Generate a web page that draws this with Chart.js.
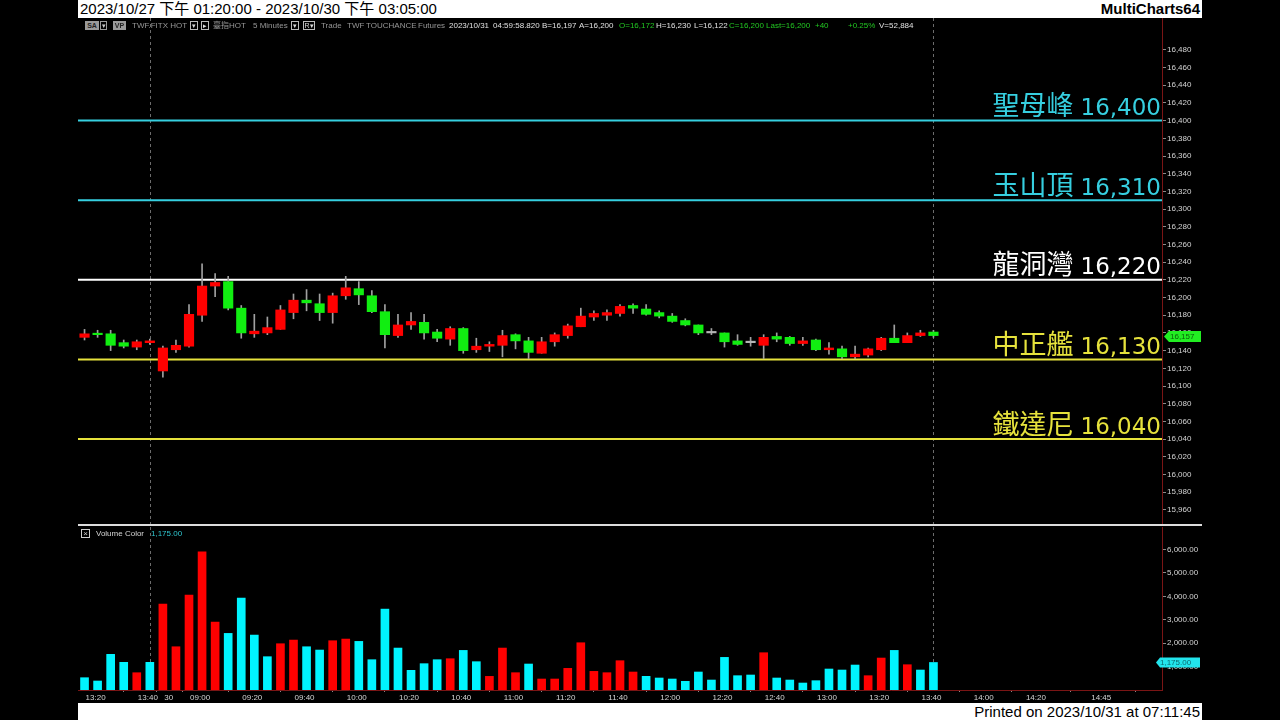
<!DOCTYPE html>
<html lang="zh-Hant">
<head>
<meta charset="utf-8">
<title>TWF.FITX HOT 5 Minutes</title>
<script src="https://cdn.jsdelivr.net/npm/chart.js@4.4.1/dist/chart.umd.min.js"></script>
<style>
  html, body { margin:0; padding:0; width:1280px; height:720px; background:#000; overflow:hidden;
    font-family:"Liberation Sans","Noto Sans CJK TC",sans-serif; }
  .a { position:absolute; white-space:nowrap; }
  #hdr { left:78px; top:0; width:1124px; height:18px; background:#fff; }
  #ftr { left:78px; top:703px; width:1124px; height:17px; background:#fff; }
  #title { left:80px; top:0; line-height:18px; font-size:15px; color:#000; }
  #brand { right:80px; top:0; line-height:18px; font-size:15px; font-weight:bold; color:#000; }
  #printed { right:80px; top:703px; line-height:17px; font-size:15px; color:#000; }
  .inf { top:20px; font-size:8px; line-height:11px; color:#979797; }
  .w { color:#e0e0e0; } .g { color:#22c822; }
  .box { top:21px; height:9px; font-size:7px; line-height:9px; text-align:center; box-sizing:border-box; }
  #sep { left:78px; top:524px; width:1124px; height:2px; background:#dcdcdc; }
  canvas { position:absolute; }
</style>
</head>
<body>
<canvas id="price" width="1124" height="506" style="left:78px;top:18px;"></canvas>
<canvas id="vol" width="1124" height="176" style="left:78px;top:527px;"></canvas>

<div class="a" id="hdr"></div>
<div class="a" id="ftr"></div>
<div class="a" id="title">2023/10/27 下午 01:20:00 - 2023/10/30 下午 03:05:00</div>
<div class="a" id="brand">MultiCharts64</div>
<div class="a" id="printed">Printed on 2023/10/31 at 07:11:45</div>
<div class="a" id="sep"></div>

<div class="a box" style="left:85px;width:14px;background:#9a9a9a;color:#222;font-weight:bold;">SA</div>
<div class="a box" style="left:100px;width:7px;border:1px solid #9a9a9a;color:#ccc;line-height:7px;">▾</div>
<div class="a box" style="left:113px;width:13px;background:#9a9a9a;color:#222;font-weight:bold;">VP</div>
<div class="a inf" style="left:132px;">TWF.FITX HOT</div>
<div class="a box" style="left:190px;width:8px;border:1px solid #bbb;color:#ddd;line-height:7px;">▾</div>
<div class="a box" style="left:201px;width:8px;border:1px solid #bbb;color:#ddd;line-height:7px;">▸</div>
<div class="a inf" style="left:213px;">臺指HOT</div>
<div class="a inf" style="left:253px;">5 Minutes</div>
<div class="a box" style="left:291px;width:8px;border:1px solid #bbb;color:#ddd;line-height:7px;">▾</div>
<div class="a box" style="left:303px;width:12px;border:1px solid #bbb;color:#ddd;line-height:7px;">R▾</div>
<div class="a inf" style="left:321px;">Trade</div>
<div class="a inf" style="left:347px;">TWF</div>
<div class="a inf" style="left:366px;">TOUCHANCE</div>
<div class="a inf" style="left:418px;">Futures</div>
<div class="a inf w" style="left:449px;">2023/10/31</div>
<div class="a inf w" style="left:493px;">04:59:58.820</div>
<div class="a inf w" style="left:542px;">B=16,197</div>
<div class="a inf w" style="left:579px;">A=16,200</div>
<div class="a inf g" style="left:619px;">O=16,172</div>
<div class="a inf w" style="left:656px;">H=16,230</div>
<div class="a inf w" style="left:694px;">L=16,122</div>
<div class="a inf g" style="left:729px;">C=16,200</div>
<div class="a inf g" style="left:766px;">Last=16,200</div>
<div class="a inf g" style="left:815px;">+40</div>
<div class="a inf g" style="left:848px;">+0.25%</div>
<div class="a inf w" style="left:879px;">V=52,884</div>

<div class="a" style="left:81px;top:529px;width:9px;height:9px;border:1px solid #cfcfcf;box-sizing:border-box;color:#cfcfcf;font-size:8px;line-height:7px;text-align:center;">×</div>
<div class="a" style="left:96px;top:528px;font-size:8px;line-height:11px;color:#d6d6d6;">Volume Color</div>
<div class="a" style="left:151px;top:528px;font-size:8px;line-height:11px;color:#2ec6cf;">1,175.00</div>

<script>
// ---------- categories (5-minute bars, 10/27 then 10/30, plus empty future bars) ----------
const times = ("13:15 13:20 13:25 13:30 13:35 13:40 " +
  "08:45 08:50 08:55 09:00 09:05 09:10 09:15 09:20 09:25 09:30 09:35 09:40 09:45 09:50 09:55 " +
  "10:00 10:05 10:10 10:15 10:20 10:25 10:30 10:35 10:40 10:45 10:50 10:55 " +
  "11:00 11:05 11:10 11:15 11:20 11:25 11:30 11:35 11:40 11:45 11:50 11:55 " +
  "12:00 12:05 12:10 12:15 12:20 12:25 12:30 12:35 12:40 12:45 12:50 12:55 " +
  "13:00 13:05 13:10 13:15 13:20 13:25 13:30 13:35 13:40 13:45 13:50 13:55 " +
  "14:00 14:05 14:10 14:15 14:20 14:25 14:30 14:35 14:40 14:45 14:50 14:55 15:00 15:05").split(" ");

// ---------- x tick labels ----------
const xTickIndex = [1, 5, 6, 9, 13, 17, 21, 25, 29, 33, 37, 41, 45, 49, 53, 57, 61, 65, 69, 73, 78];
const xTickText  = ["13:20","13:40","       30","09:00","09:20","09:40","10:00","10:20","10:40","11:00",
                    "11:20","11:40","12:00","12:20","12:40","13:00","13:20","13:40","14:00","14:20","14:45"];

// ---------- OHLC ----------
const opens  = [16155,16159,16159,16149,16144,16149,16117,16141,16145,16180,
                16213,16218,16188,16159,16160,16164,16183,16197,16193,16183,
                16202,16210,16202,16184,16157,16169,16172,16161,16153,16165,
                16141,16145,16146,16158,16151,16137,16150,16157,16167,16178,
                16180,16182,16191,16187,16183,16179,16174,16169,16160,16160,
                16151,16149,16146,16156,16155,16148,16152,16141,16142,16133,
                16135,16141,16154,16149,16157,16161];
const highs  = [16164,16163,16163,16152,16152,16153,16145,16152,16192,16238,
                16227,16224,16191,16181,16178,16191,16204,16209,16204,16205,
                16224,16218,16208,16192,16181,16183,16181,16164,16167,16166,
                16154,16150,16163,16159,16155,16155,16160,16170,16188,16185,
                16186,16192,16193,16192,16185,16182,16176,16169,16165,16160,
                16158,16155,16158,16160,16156,16155,16153,16149,16145,16145,
                16143,16155,16169,16160,16163,16163];
const lows   = [16152,16155,16140,16143,16141,16147,16110,16138,16144,16173,
                16201,16186,16154,16155,16158,16164,16176,16185,16174,16171,
                16198,16192,16183,16143,16155,16164,16153,16150,16146,16137,
                16138,16139,16133,16142,16131,16137,16145,16154,16167,16174,
                16174,16179,16182,16180,16177,16172,16168,16158,16158,16144,
                16146,16145,16131,16150,16146,16146,16140,16136,16131,16131,
                16133,16140,16149,16149,16156,16155];
const closes = [16159,16158,16146,16145,16150,16151,16143,16146,16181,16213,
                16217,16188,16160,16162,16166,16186,16197,16194,16183,16202,
                16211,16203,16184,16158,16169,16173,16160,16154,16165,16140,
                16145,16147,16157,16151,16138,16150,16158,16168,16179,16182,
                16183,16190,16188,16181,16179,16173,16169,16160,16160,16150,
                16147,16149,16155,16153,16148,16151,16141,16143,16133,16136,
                16142,16154,16149,16157,16160,16157];

// ---------- volume ----------
const volumes  = [525,384,1522,1181,738,1181,3667,1847,4051,5898,
                  2900,2417,3923,2345,1422,1976,2132,1847,1706,2104,
                  2175,2076,1294,3454,1791,839,1124,1294,1336,1691,
                  1209,582,1791,739,1109,469,469,924,2018,796,
                  739,1251,768,583,512,469,370,768,426,1393,
                  611,640,1592,512,426,298,398,896,853,1066,
                  611,1365,1691,1080,853,1175];
const volumeUp = [0,0,0,0,1,0,1,1,1,1, 1,0,0,0,0,1,1,0,0,1,
                  1,0,0,0,0,0,0,0,1,0, 0,1,1,1,0,1,1,1,1,1,
                  1,1,1,0,0,0,0,0,0,0, 0,0,1,0,0,0,0,0,0,0,
                  1,1,0,1,0,0];

// ---------- axis ticks ----------
const priceTicks = [15960,15980,16000,16020,16040,16060,16080,16100,16120,16140,16160,16180,16200,
                    16220,16240,16260,16280,16300,16320,16340,16360,16380,16400,16420,16440,16460,16480];
const volumeTicks = [1000,2000,3000,4000,5000,6000];

// ---------- price levels ----------
const levelValues = [16400, 16310, 16220, 16130, 16040];
const levelNames  = ["聖母峰", "玉山頂", "龍洞灣", "中正艦", "鐵達尼"];
const sessionMarks = [5, 65];

// ---------- styles ----------
const levelColors = ["#36cfe0", "#36cfe0", "#ffffff", "#e6e23c", "#e6e23c"];
const UP = "#ff0000", DOWN = "#11ee11", FLAT = "#b4b4b4", WICK = "#a0a0a0";
const VUP = "#ff0000", VDOWN = "#00f4ff";
const AXIS_RED = "#7a1515", LABEL = "#d4d4d4", TICKC = "#8a8a8a";
const tickFont = { family: "Liberation Sans", size: 8 };

const lastPrice = closes[closes.length - 1];
const lastVolume = volumes[volumes.length - 1];

function zeroPad(s) { s.paddingTop = 0; s.paddingBottom = 0; s.paddingLeft = 0; s.paddingRight = 0; }

const dashPlugin = {
  id: "sessionDash",
  beforeDatasetsDraw(chart) {
    const { ctx, chartArea: a, scales: { x } } = chart;
    ctx.save();
    ctx.strokeStyle = "#6c6c6c"; ctx.lineWidth = 1; ctx.setLineDash([3, 3]);
    sessionMarks.forEach(i => {
      const px = Math.round(x.getPixelForValue(i)) + 0.5;
      ctx.beginPath(); ctx.moveTo(px, a.top); ctx.lineTo(px, a.bottom); ctx.stroke();
    });
    ctx.restore();
  }
};

const pricePlugin = {
  id: "priceDecor",
  beforeDatasetsDraw(chart) {
    const { ctx, chartArea: a, scales: { y } } = chart;
    ctx.save();
    ctx.lineWidth = 2;
    levelValues.forEach((v, i) => {
      const py = y.getPixelForValue(v);
      ctx.strokeStyle = levelColors[i];
      ctx.beginPath(); ctx.moveTo(a.left, py); ctx.lineTo(a.right, py); ctx.stroke();
    });
    ctx.restore();
  },
  afterDatasetsDraw(chart) {
    const { ctx, chartArea: a, scales: { y } } = chart;
    ctx.save();
    ctx.textAlign = "right"; ctx.textBaseline = "alphabetic";
    levelValues.forEach((v, i) => {
      const py = y.getPixelForValue(v) - 5.5;
      const num = v.toLocaleString("en-US");
      const right = a.right - 1;
      ctx.fillStyle = levelColors[i];
      ctx.font = '23px "DejaVu Sans"';
      ctx.fillText(num, right, py);
      const w = ctx.measureText(num).width;
      ctx.font = '27px "Noto Sans CJK TC"';
      ctx.fillText(levelNames[i], right - w - 7, py);
    });
    ctx.restore();
  },
  afterDraw(chart) {
    const { ctx, chartArea: a, scales: { y } } = chart;
    const py = Math.round(y.getPixelForValue(lastPrice)) + 0.5;
    const x0 = a.right + 2;
    ctx.save();
    ctx.fillStyle = "#22ee22";
    ctx.beginPath();
    ctx.moveTo(x0, py); ctx.lineTo(x0 + 5, py - 5.5); ctx.lineTo(a.right + 39, py - 5.5);
    ctx.lineTo(a.right + 39, py + 5.5); ctx.lineTo(x0 + 5, py + 5.5); ctx.closePath(); ctx.fill();
    ctx.fillStyle = "#0b5e0b"; ctx.font = '8px "Liberation Sans"';
    ctx.textAlign = "left"; ctx.textBaseline = "middle";
    ctx.fillText(lastPrice.toLocaleString("en-US"), a.right + 8, py + 0.5);
    ctx.restore();
  }
};

const volPlugin = {
  id: "volDecor",
  afterDraw(chart) {
    const { ctx, chartArea: a, scales: { y } } = chart;
    const py = Math.round(y.getPixelForValue(lastVolume)) + 0.5;
    const x0 = a.right - 6;
    ctx.save();
    ctx.fillStyle = "#22e4ec";
    ctx.beginPath();
    ctx.moveTo(x0, py); ctx.lineTo(x0 + 4, py - 5); ctx.lineTo(a.right + 38, py - 5);
    ctx.lineTo(a.right + 38, py + 5); ctx.lineTo(x0 + 4, py + 5); ctx.closePath(); ctx.fill();
    ctx.fillStyle = "#0b6a72"; ctx.font = '8px "Liberation Sans"';
    ctx.textAlign = "left"; ctx.textBaseline = "middle";
    ctx.fillText(lastVolume.toLocaleString("en-US", { minimumFractionDigits: 2 }), a.right - 2, py + 0.5);
    ctx.restore();
  }
};

const baseOpts = {
  responsive: false, animation: false, devicePixelRatio: 1,
  layout: { padding: 0, autoPadding: false },
  plugins: { legend: { display: false }, tooltip: { enabled: false } }
};

const bodyColors = opens.map((o, i) => closes[i] > o ? UP : (closes[i] < o ? DOWN : FLAT));

new Chart(document.getElementById("price"), {
  type: "bar",
  data: {
    labels: times,
    datasets: [
      { data: opens.map((o, i) => [lows[i], highs[i]]), backgroundColor: WICK,
        barThickness: 1, grouped: false, order: 2 },
      { data: opens.map((o, i) => [o, closes[i]]), backgroundColor: bodyColors,
        barThickness: 9.5, grouped: false, order: 1, minBarLength: 1.5 }
    ]
  },
  options: Object.assign({}, baseOpts, {
    scales: {
      x: { display: false, offset: true },
      y: {
        position: "right", min: 15944, max: 16516,
        afterBuildTicks: s => { s.ticks = priceTicks.map(v => ({ value: v })); },
        afterFit: s => { s.width = 40; zeroPad(s); },
        grid: { drawOnChartArea: false, drawTicks: true, tickLength: 4, color: TICKC },
        border: { color: AXIS_RED, width: 1 },
        ticks: { color: LABEL, font: tickFont, padding: 1, callback: v => v.toLocaleString("en-US") }
      }
    }
  }),
  plugins: [dashPlugin, pricePlugin]
});

new Chart(document.getElementById("vol"), {
  type: "bar",
  data: {
    labels: times,
    datasets: [
      { data: volumes, backgroundColor: volumeUp.map(u => u ? VUP : VDOWN),
        barThickness: 8, grouped: false }
    ]
  },
  options: Object.assign({}, baseOpts, {
    scales: {
      x: {
        offset: true,
        afterFit: s => { s.height = 13; zeroPad(s); },
        grid: { drawOnChartArea: false, drawTicks: true, tickLength: 2, color: TICKC },
        border: { color: AXIS_RED, width: 1 },
        ticks: {
          autoSkip: false, maxRotation: 0, minRotation: 0, padding: 1, labelOffset: -2,
          color: LABEL, font: tickFont,
          callback: (v, i) => { const k = xTickIndex.indexOf(i); return k >= 0 ? xTickText[k] : null; }
        }
      },
      y: {
        position: "right", min: 0, max: 6960,
        afterBuildTicks: s => { s.ticks = volumeTicks.map(v => ({ value: v })); },
        afterFit: s => { s.width = 40; zeroPad(s); },
        grid: { drawOnChartArea: false, drawTicks: true, tickLength: 4, color: TICKC },
        border: { color: AXIS_RED, width: 1 },
        ticks: { color: LABEL, font: tickFont, padding: 1,
                 callback: v => v.toLocaleString("en-US", { minimumFractionDigits: 2 }) }
      }
    }
  }),
  plugins: [dashPlugin, volPlugin]
});
</script>
</body>
</html>
